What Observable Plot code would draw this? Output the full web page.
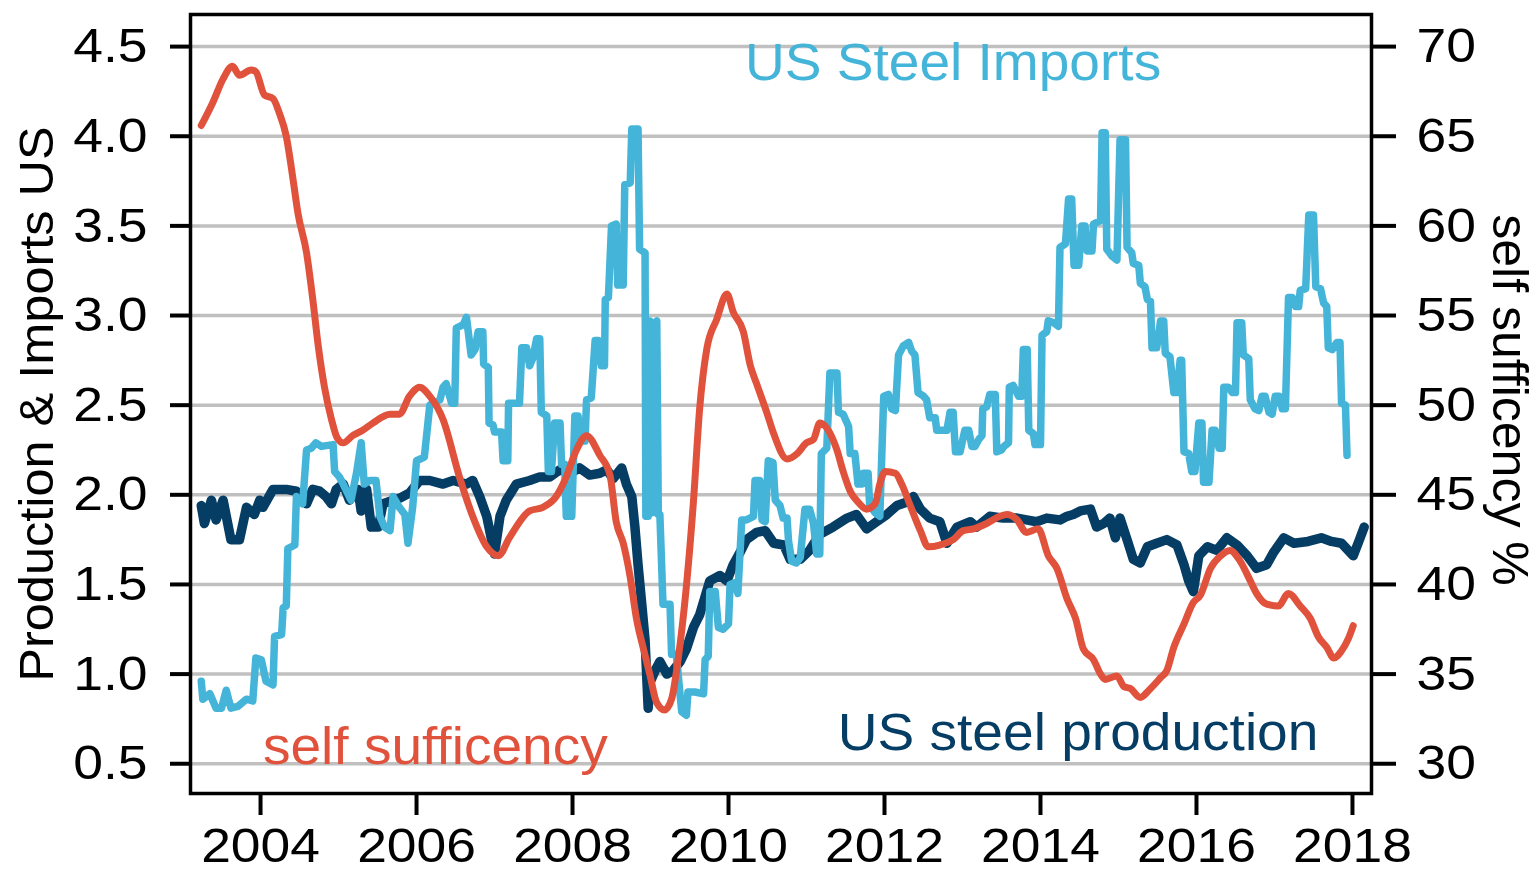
<!DOCTYPE html>
<html>
<head>
<meta charset="utf-8">
<script src="https://cdn.jsdelivr.net/npm/d3@7"></script>
<script src="https://cdn.jsdelivr.net/npm/@observablehq/plot@0.6"></script>
<style>
  html, body { margin: 0; padding: 0; background: #fff; }
</style>
</head>
<body>
<div id="chart"></div>
<script>
// ---- data (decimal year, value) ----
const imports = [
[2003.24,0.96],[2003.26,0.86],[2003.35,0.89],[2003.43,0.81],[2003.50,0.81],[2003.56,0.91],[2003.62,0.81],[2003.71,0.82],[2003.82,0.86],[2003.90,0.85],[2003.94,1.09],[2004.01,1.08],[2004.07,0.96],[2004.16,0.94],[2004.18,1.21],[2004.27,1.22],[2004.29,1.37],[2004.33,1.38],[2004.35,1.70],[2004.44,1.72],[2004.46,1.99],[2004.54,1.95],[2004.59,2.25],[2004.65,2.26],[2004.71,2.29],[2004.78,2.27],[2004.93,2.28],[2004.95,2.13],[2005.01,2.10],[2005.06,2.06],[2005.16,1.97],[2005.23,2.12],[2005.29,2.29],[2005.33,2.06],[2005.40,2.08],[2005.48,2.08],[2005.53,1.88],[2005.59,1.82],[2005.66,1.80],[2005.70,1.99],[2005.78,1.93],[2005.85,1.89],[2005.89,1.73],[2005.95,1.93],[2006.00,2.19],[2006.10,2.21],[2006.17,2.50],[2006.30,2.53],[2006.34,2.60],[2006.38,2.62],[2006.45,2.51],[2006.49,2.51],[2006.51,2.93],[2006.60,2.95],[2006.64,2.99],[2006.70,2.78],[2006.75,2.81],[2006.79,2.91],[2006.85,2.91],[2006.86,2.73],[2006.92,2.71],[2006.93,2.40],[2006.98,2.39],[2007.00,2.35],[2007.09,2.35],[2007.11,2.19],[2007.17,2.19],[2007.18,2.51],[2007.32,2.51],[2007.35,2.82],[2007.41,2.82],[2007.45,2.72],[2007.49,2.76],[2007.54,2.87],[2007.58,2.87],[2007.60,2.46],[2007.67,2.44],[2007.69,2.13],[2007.73,2.13],[2007.77,2.40],[2007.84,2.40],[2007.86,2.17],[2007.90,2.17],[2007.92,1.88],[2007.99,1.88],[2008.03,2.44],[2008.07,2.44],[2008.12,2.30],[2008.16,2.30],[2008.18,2.53],[2008.24,2.54],[2008.29,2.86],[2008.33,2.86],[2008.37,2.72],[2008.41,2.72],[2008.42,3.09],[2008.46,3.10],[2008.50,3.50],[2008.56,3.51],[2008.58,3.17],[2008.65,3.17],[2008.67,3.73],[2008.74,3.74],[2008.76,4.04],[2008.84,4.04],[2008.86,3.37],[2008.93,3.35],[2008.94,1.88],[2008.97,1.88],[2008.99,2.97],[2009.02,1.90],[2009.04,2.95],[2009.08,2.97],[2009.10,1.89],[2009.12,1.89],[2009.16,1.39],[2009.25,1.39],[2009.27,1.11],[2009.33,1.11],[2009.40,0.79],[2009.46,0.77],[2009.48,0.90],[2009.57,0.90],[2009.68,0.89],[2009.70,1.08],[2009.74,1.10],[2009.76,1.46],[2009.83,1.46],[2009.87,1.26],[2009.93,1.25],[2010.00,1.28],[2010.02,1.50],[2010.08,1.51],[2010.12,1.45],[2010.17,1.86],[2010.23,1.86],[2010.32,1.88],[2010.34,2.08],[2010.40,2.08],[2010.43,1.86],[2010.47,1.85],[2010.51,2.19],[2010.57,2.18],[2010.60,1.97],[2010.66,1.94],[2010.70,1.87],[2010.75,1.87],[2010.77,1.74],[2010.81,1.63],[2010.87,1.62],[2010.92,1.65],[2010.98,1.92],[2011.04,1.92],[2011.09,1.84],[2011.13,1.67],[2011.17,1.67],[2011.19,2.23],[2011.26,2.26],[2011.30,2.68],[2011.39,2.68],[2011.41,2.46],[2011.47,2.45],[2011.52,2.40],[2011.54,2.38],[2011.56,2.23],[2011.62,2.23],[2011.66,2.06],[2011.71,2.06],[2011.73,2.12],[2011.79,2.12],[2011.81,1.94],[2011.88,1.90],[2011.94,1.88],[2011.99,2.55],[2012.05,2.56],[2012.09,2.48],[2012.14,2.47],[2012.18,2.78],[2012.24,2.83],[2012.31,2.85],[2012.35,2.80],[2012.39,2.78],[2012.43,2.57],[2012.50,2.55],[2012.54,2.53],[2012.58,2.43],[2012.65,2.43],[2012.67,2.36],[2012.80,2.36],[2012.84,2.46],[2012.88,2.46],[2012.91,2.24],[2012.97,2.24],[2013.03,2.36],[2013.08,2.36],[2013.12,2.27],[2013.16,2.27],[2013.21,2.31],[2013.25,2.33],[2013.26,2.48],[2013.31,2.49],[2013.35,2.56],[2013.42,2.56],[2013.44,2.24],[2013.50,2.25],[2013.53,2.27],[2013.59,2.29],[2013.60,2.60],[2013.65,2.61],[2013.72,2.55],[2013.76,2.55],[2013.78,2.81],[2013.83,2.81],[2013.85,2.36],[2013.91,2.34],[2013.93,2.28],[2014.00,2.28],[2014.02,2.89],[2014.08,2.91],[2014.10,2.97],[2014.17,2.96],[2014.23,2.94],[2014.25,3.38],[2014.32,3.40],[2014.36,3.65],[2014.40,3.65],[2014.43,3.28],[2014.49,3.28],[2014.53,3.50],[2014.57,3.50],[2014.60,3.36],[2014.66,3.36],[2014.68,3.51],[2014.77,3.53],[2014.79,4.02],[2014.83,4.02],[2014.85,3.37],[2014.92,3.33],[2014.98,3.31],[2015.02,3.98],[2015.09,3.98],[2015.11,3.38],[2015.17,3.35],[2015.19,3.29],[2015.26,3.28],[2015.28,3.18],[2015.34,3.16],[2015.37,3.09],[2015.41,3.08],[2015.43,2.82],[2015.49,2.82],[2015.54,2.97],[2015.58,2.97],[2015.60,2.79],[2015.66,2.77],[2015.71,2.57],[2015.75,2.57],[2015.79,2.75],[2015.81,2.75],[2015.84,2.24],[2015.90,2.23],[2015.94,2.13],[2015.98,2.13],[2016.03,2.40],[2016.07,2.40],[2016.09,2.07],[2016.16,2.07],[2016.20,2.36],[2016.24,2.36],[2016.29,2.26],[2016.33,2.26],[2016.35,2.60],[2016.41,2.60],[2016.46,2.57],[2016.50,2.57],[2016.52,2.96],[2016.58,2.96],[2016.60,2.78],[2016.67,2.76],[2016.69,2.53],[2016.75,2.48],[2016.80,2.47],[2016.84,2.55],[2016.88,2.55],[2016.93,2.46],[2016.97,2.45],[2017.01,2.55],[2017.06,2.55],[2017.10,2.48],[2017.14,2.48],[2017.18,3.10],[2017.23,3.10],[2017.27,3.05],[2017.31,3.05],[2017.33,3.14],[2017.40,3.15],[2017.44,3.56],[2017.50,3.56],[2017.53,3.16],[2017.59,3.15],[2017.63,3.07],[2017.67,3.05],[2017.69,2.82],[2017.74,2.81],[2017.80,2.85],[2017.84,2.85],[2017.86,2.51],[2017.91,2.50],[2017.93,2.22]
];

const production = [
[2003.24,1.94],[2003.28,1.84],[2003.37,1.97],[2003.43,1.86],[2003.52,1.97],[2003.62,1.75],[2003.73,1.75],[2003.82,1.93],[2003.92,1.89],[2003.99,1.97],[2004.03,1.93],[2004.16,2.03],[2004.33,2.03],[2004.46,2.02],[2004.59,1.95],[2004.67,2.03],[2004.76,2.02],[2004.84,1.99],[2004.91,1.95],[2004.97,2.03],[2005.06,2.06],[2005.14,1.97],[2005.25,2.03],[2005.29,1.91],[2005.36,2.03],[2005.42,1.82],[2005.51,1.82],[2005.57,1.95],[2005.70,1.97],[2005.78,1.98],[2005.91,2.01],[2006.04,2.08],[2006.17,2.08],[2006.34,2.06],[2006.47,2.08],[2006.64,2.06],[2006.72,2.08],[2006.81,1.99],[2006.90,1.88],[2007.00,1.67],[2007.07,1.88],[2007.15,1.97],[2007.28,2.06],[2007.45,2.08],[2007.58,2.10],[2007.71,2.10],[2007.84,2.14],[2007.97,2.12],[2008.09,2.15],[2008.22,2.11],[2008.35,2.12],[2008.44,2.14],[2008.52,2.09],[2008.63,2.15],[2008.69,2.06],[2008.76,1.99],[2008.80,1.82],[2008.84,1.61],[2008.89,1.38],[2008.93,1.19],[2008.97,0.81],[2008.99,0.95],[2009.06,1.02],[2009.12,1.07],[2009.21,1.00],[2009.29,1.02],[2009.38,1.07],[2009.46,1.14],[2009.55,1.26],[2009.63,1.33],[2009.76,1.52],[2009.89,1.55],[2009.98,1.52],[2010.06,1.61],[2010.15,1.68],[2010.23,1.75],[2010.36,1.79],[2010.47,1.80],[2010.58,1.73],[2010.71,1.72],[2010.79,1.64],[2010.92,1.64],[2011.04,1.69],[2011.17,1.78],[2011.34,1.82],[2011.52,1.87],[2011.64,1.89],[2011.77,1.81],[2011.90,1.85],[2012.03,1.89],[2012.16,1.94],[2012.29,1.96],[2012.37,1.99],[2012.46,1.92],[2012.58,1.87],[2012.71,1.85],[2012.80,1.73],[2012.93,1.82],[2013.10,1.85],[2013.18,1.82],[2013.35,1.88],[2013.52,1.87],[2013.70,1.87],[2013.82,1.86],[2013.95,1.85],[2014.08,1.87],[2014.25,1.86],[2014.34,1.88],[2014.42,1.89],[2014.51,1.91],[2014.64,1.92],[2014.72,1.82],[2014.81,1.84],[2014.89,1.87],[2014.96,1.76],[2015.02,1.87],[2015.11,1.75],[2015.19,1.64],[2015.28,1.62],[2015.37,1.71],[2015.49,1.73],[2015.62,1.75],[2015.75,1.72],[2015.84,1.61],[2015.90,1.52],[2015.96,1.46],[2016.03,1.66],[2016.14,1.71],[2016.26,1.69],[2016.39,1.76],[2016.52,1.72],[2016.65,1.66],[2016.77,1.59],[2016.90,1.61],[2016.99,1.68],[2017.12,1.76],[2017.25,1.73],[2017.43,1.74],[2017.60,1.76],[2017.73,1.74],[2017.86,1.73],[2018.01,1.66],[2018.09,1.75],[2018.15,1.82]
];

// self sufficiency in percent (right axis)
const selfSufficiency = [
[2003.24,65.6],[2003.39,66.9],[2003.52,68.2],[2003.64,68.9],[2003.73,68.4],[2003.88,68.7],[2003.94,68.6],[2004.05,67.3],[2004.16,67.1],[2004.24,66.3],[2004.33,65.0],[2004.41,62.8],[2004.48,60.7],[2004.59,58.5],[2004.67,55.9],[2004.74,53.3],[2004.82,51.0],[2004.91,49.2],[2004.98,48.2],[2005.06,47.9],[2005.18,48.3],[2005.31,48.6],[2005.44,49.0],[2005.66,49.5],[2005.78,49.5],[2005.91,50.5],[2006.04,51.0],[2006.17,50.5],[2006.34,49.2],[2006.55,46.0],[2006.72,43.8],[2006.90,42.1],[2007.05,41.6],[2007.19,42.6],[2007.45,44.1],[2007.62,44.3],[2007.79,44.9],[2007.92,46.0],[2008.05,47.5],[2008.18,48.3],[2008.35,47.2],[2008.48,46.1],[2008.56,43.5],[2008.65,42.3],[2008.74,40.4],[2008.82,38.1],[2008.91,36.4],[2008.99,35.0],[2009.08,33.4],[2009.18,33.0],[2009.27,33.6],[2009.35,35.7],[2009.46,39.9],[2009.55,44.6],[2009.63,49.8],[2009.72,53.1],[2009.85,54.8],[2009.98,56.2],[2010.06,55.2],[2010.19,54.1],[2010.28,52.2],[2010.36,51.2],[2010.49,49.6],[2010.58,48.4],[2010.75,47.0],[2010.88,47.3],[2011.00,47.9],[2011.09,48.1],[2011.17,49.0],[2011.28,48.6],[2011.39,47.5],[2011.47,46.3],[2011.56,45.2],[2011.66,44.6],[2011.77,44.2],[2011.88,44.5],[2011.94,45.6],[2012.01,46.3],[2012.14,46.2],[2012.22,45.6],[2012.33,44.4],[2012.46,43.0],[2012.56,42.1],[2012.71,42.2],[2012.88,42.5],[2013.01,43.0],[2013.14,43.1],[2013.31,43.4],[2013.48,43.8],[2013.57,43.9],[2013.70,43.6],[2013.82,42.9],[2013.97,43.1],[2014.10,41.6],[2014.21,40.9],[2014.34,39.2],[2014.45,38.1],[2014.55,36.4],[2014.68,35.8],[2014.77,35.0],[2014.83,34.7],[2014.98,34.9],[2015.07,34.3],[2015.15,34.2],[2015.28,33.7],[2015.39,34.1],[2015.54,34.8],[2015.62,35.2],[2015.71,36.5],[2015.84,37.8],[2015.96,39.0],[2016.05,39.4],[2016.18,40.9],[2016.31,41.6],[2016.43,41.9],[2016.56,41.3],[2016.69,40.2],[2016.77,39.5],[2016.90,38.9],[2017.05,38.8],[2017.18,39.5],[2017.33,38.8],[2017.46,38.1],[2017.56,37.1],[2017.67,36.5],[2017.76,35.9],[2017.86,36.3],[2017.95,37.0],[2018.01,37.7]
];

const xTickYears = [2004, 2006, 2008, 2010, 2012, 2014, 2016, 2018];
const leftTicks = [0.5, 1.0, 1.5, 2.0, 2.5, 3.0, 3.5, 4.0, 4.5];
const rightTickLabels = [30, 35, 40, 45, 50, 55, 60, 65, 70];

const seriesLabels = [
  {text: "US Steel Imports", year: 2010.21, value: 4.313},
  {text: "self sufficency", year: 2004.03, value: 0.496},
  {text: "US steel production", year: 2011.40, value: 0.574}
];
const leftTitle = "Production & Imports US";
const rightTitle = "self sufficency %";

// ---- styling ----
const cImports = "#44b4d8";
const cProd = "#053d64";
const cSelf = "#e0523c";
const labelColors = [cImports, cSelf, cProd];

// map percent (right axis) onto left axis scale
const pctToLeft = p => 0.5 + (p - 30) / 10;

const chart = Plot.plot({
  width: 1536,
  height: 873,
  marginLeft: 190,
  marginRight: 165,
  marginTop: 14,
  marginBottom: 80,
  style: {fontFamily: "'Liberation Sans', Arial, sans-serif", fontSize: "49px", color: "#000", background: "#fff", overflow: "visible"},
  x: {type: "linear", domain: [2003.102, 2018.244]},
  y: {domain: [0.334, 4.679]},
  marks: [
    Plot.ruleY(leftTicks, {stroke: "#c0c0c0", strokeWidth: 3.5}),
    Plot.line(production, {x: d => d[0], y: d => d[1], stroke: cProd, strokeWidth: 9.5, strokeLinejoin: "round"}),
    Plot.line(imports, {x: d => d[0], y: d => d[1], stroke: cImports, strokeWidth: 7.5, strokeLinejoin: "round"}),
    Plot.line(selfSufficiency, {x: d => d[0], y: d => pctToLeft(d[1]), stroke: cSelf, strokeWidth: 7, curve: "monotone-x"}),
    Plot.text(seriesLabels, {x: "year", y: "value", text: "text", textAnchor: "start", lineAnchor: "bottom",
      fill: (d, i) => labelColors[i], fontSize: 51, className: "serieslabel"}),
    Plot.axisX({ticks: xTickYears, tickFormat: d => String(d), tickSize: 22, tickPadding: 12, strokeWidth: 4, label: null, fontSize: 49}),
    Plot.axisY({ticks: leftTicks, tickFormat: d => d.toFixed(1), anchor: "left", tickSize: 20, tickPadding: 23, strokeWidth: 4, label: null, fontSize: 49}),
    Plot.axisY({ticks: leftTicks, tickFormat: d => String(rightTickLabels[leftTicks.indexOf(d)]), anchor: "right", tickSize: 24, tickPadding: 21, strokeWidth: 4, label: null, fontSize: 49}),
    Plot.text([leftTitle], {frameAnchor: "left", text: d => d, rotate: -90, textAnchor: "middle", lineAnchor: "middle", dx: -153, dy: 0, fontSize: 49, fill: "#000", className: "lefttitle"}),
    Plot.text([rightTitle], {frameAnchor: "right", text: d => d, rotate: 90, textAnchor: "middle", lineAnchor: "middle", dx: 137, dy: -4, fontSize: 50, fill: "#000", className: "righttitle"}),
    Plot.frame({stroke: "#000", strokeWidth: 3.5})
  ]
});

document.getElementById("chart").appendChild(chart);

// horizontal stretch of glyphs, as in the reference rendering
function stretch(nodes, f) {
  nodes.forEach(t => {
    const L = t.getComputedTextLength();
    if (L > 0) {
      t.setAttribute("textLength", (L * f).toFixed(1));
      t.setAttribute("lengthAdjust", "spacingAndGlyphs");
    }
  });
}
const svg = d3.select(chart.tagName.toLowerCase() === "svg" ? chart : chart.querySelector("svg"));
stretch(svg.selectAll('g[aria-label="x-axis tick label"] text, g[aria-label="y-axis tick label"] text').nodes(), 1.09);
stretch(svg.selectAll('g.serieslabel text').nodes(), 1.08);
stretch(svg.selectAll('g.lefttitle text').nodes(), 1.03);
stretch(svg.selectAll('g.righttitle text').nodes(), 1.0);
</script>
</body>
</html>
